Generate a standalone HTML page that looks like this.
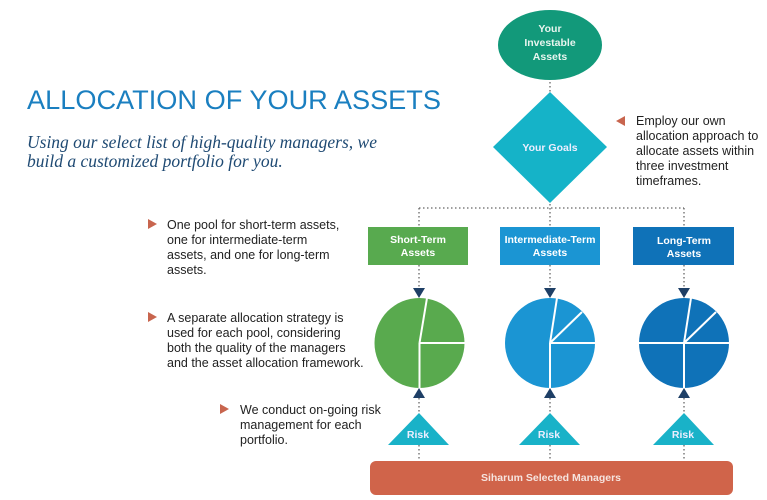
<!DOCTYPE html>
<html><head><meta charset="utf-8"><style>
body{margin:0;background:#fff;width:767px;height:500px;overflow:hidden}
svg{display:block}
</style></head><body>
<svg width="767" height="500" viewBox="0 0 767 500" xmlns="http://www.w3.org/2000/svg" font-family="Liberation Sans, sans-serif">
<text x="27" y="109" font-size="27" fill="#1a7fc0" textLength="414" lengthAdjust="spacingAndGlyphs">ALLOCATION OF YOUR ASSETS</text>
<text font-family="Liberation Serif, serif" font-style="italic" font-size="17.5" fill="#1f4a73"><tspan x="27" y="148">Using our select list of high-quality managers, we</tspan><tspan x="27" y="167">build a customized portfolio for you.</tspan></text>

<g font-size="12.5" fill="#222">
<polygon points="148,219 148,229 157,224" fill="#c8654e"/>
<text><tspan x="167" y="229">One pool for short-term assets,</tspan><tspan x="167" y="244">one for intermediate-term</tspan><tspan x="167" y="259">assets, and one for long-term</tspan><tspan x="167" y="274">assets.</tspan></text>
<polygon points="148,312 148,322 157,317" fill="#c8654e"/>
<text><tspan x="167" y="322">A separate allocation strategy is</tspan><tspan x="167" y="337">used for each pool, considering</tspan><tspan x="167" y="352">both the quality of the managers</tspan><tspan x="167" y="367">and the asset allocation framework.</tspan></text>
<polygon points="220,404 220,414 229,409" fill="#c8654e"/>
<text><tspan x="240" y="414">We conduct on-going risk</tspan><tspan x="240" y="429">management for each</tspan><tspan x="240" y="444">portfolio.</tspan></text>
<polygon points="625,116 625,126 616,121" fill="#c8654e"/>
<text><tspan x="636" y="125">Employ our own</tspan><tspan x="636" y="140">allocation approach to</tspan><tspan x="636" y="155">allocate assets within</tspan><tspan x="636" y="170">three investment</tspan><tspan x="636" y="185">timeframes.</tspan></text>
</g>

<g stroke="#666" stroke-width="1.3" stroke-dasharray="1.5,2.5" fill="none">
<line x1="550" y1="78" x2="550" y2="93"/>
<line x1="419" y1="208" x2="684" y2="208"/>
<line x1="550" y1="200" x2="550" y2="227"/>
<line x1="419" y1="208" x2="419" y2="227"/>
<line x1="684" y1="208" x2="684" y2="227"/>
<line x1="419" y1="265" x2="419" y2="288"/>
<line x1="550" y1="265" x2="550" y2="288"/>
<line x1="684" y1="265" x2="684" y2="288"/>
<line x1="419" y1="398" x2="419" y2="413"/>
<line x1="550" y1="398" x2="550" y2="413"/>
<line x1="684" y1="398" x2="684" y2="413"/>
<line x1="419" y1="445" x2="419" y2="461"/>
<line x1="550" y1="445" x2="550" y2="461"/>
<line x1="684" y1="445" x2="684" y2="461"/>
</g>

<ellipse cx="550" cy="45" rx="52" ry="35" fill="#12997a"/>
<text x="550" y="32" font-size="10.5" font-weight="bold" fill="#e8f5ef" text-anchor="middle">Your</text>
<text x="550" y="46" font-size="10.5" font-weight="bold" fill="#e8f5ef" text-anchor="middle">Investable</text>
<text x="550" y="60" font-size="10.5" font-weight="bold" fill="#e8f5ef" text-anchor="middle">Assets</text>

<polygon points="550,92 607,147 550,203 493,147" fill="#15b3c8"/>
<text x="550" y="151" font-size="10.5" font-weight="bold" fill="#eef" text-anchor="middle">Your Goals</text>

<rect x="368" y="227" width="100" height="38" fill="#58aa4f"/>
<text x="418" y="243" font-size="10.5" font-weight="bold" fill="#fff" text-anchor="middle">Short-Term</text>
<text x="418" y="256" font-size="10.5" font-weight="bold" fill="#fff" text-anchor="middle">Assets</text>
<rect x="500" y="227" width="100" height="38" fill="#1b95d3"/>
<text x="550" y="243" font-size="10.5" font-weight="bold" fill="#fff" text-anchor="middle">Intermediate-Term</text>
<text x="550" y="256" font-size="10.5" font-weight="bold" fill="#fff" text-anchor="middle">Assets</text>
<rect x="633" y="227" width="101" height="38" fill="#0f72b8"/>
<text x="684" y="244" font-size="10.5" font-weight="bold" fill="#fff" text-anchor="middle">Long-Term</text>
<text x="684" y="257" font-size="10.5" font-weight="bold" fill="#fff" text-anchor="middle">Assets</text>

<g fill="#1e3f66">
<polygon points="413,288 425,288 419,298"/><polygon points="544,288 556,288 550,298"/><polygon points="678,288 690,288 684,298"/>
<polygon points="413,398 425,398 419,388"/><polygon points="544,398 556,398 550,388"/><polygon points="678,398 690,398 684,388"/>
</g>

<g stroke="#fff" stroke-width="2">
<circle cx="419.5" cy="343" r="45" fill="#59aa4e" stroke="none"/>
<line x1="419.5" y1="343" x2="419.5" y2="388"/><line x1="419.5" y1="343" x2="465" y2="343"/><line x1="419.5" y1="343" x2="427" y2="298"/>
<circle cx="550" cy="343" r="45" fill="#1b95d3" stroke="none"/>
<line x1="550" y1="343" x2="550" y2="388"/><line x1="550" y1="343" x2="596" y2="343"/><line x1="550" y1="343" x2="557" y2="298"/><line x1="550" y1="343" x2="582" y2="312"/>
<circle cx="684" cy="343" r="45" fill="#0f72b8" stroke="none"/>
<line x1="684" y1="343" x2="684" y2="388"/><line x1="638" y1="343" x2="730" y2="343"/><line x1="684" y1="343" x2="691" y2="298"/><line x1="684" y1="343" x2="716" y2="312"/>
</g>

<g fill="#19b2c8">
<polygon points="419,413 449,445 388,445"/><polygon points="550,413 580,445 519,445"/><polygon points="684,413 714,445 653,445"/>
</g>
<g font-size="10.5" font-weight="bold" fill="#eef" text-anchor="middle">
<text x="418" y="438">Risk</text><text x="549" y="438">Risk</text><text x="683" y="438">Risk</text>
</g>

<rect x="370" y="461" width="363" height="34" rx="6" fill="#d0644a"/>
<text x="551" y="481" font-size="10.5" font-weight="bold" fill="#f6e4df" text-anchor="middle">Siharum Selected Managers</text>
</svg>
</body></html>
